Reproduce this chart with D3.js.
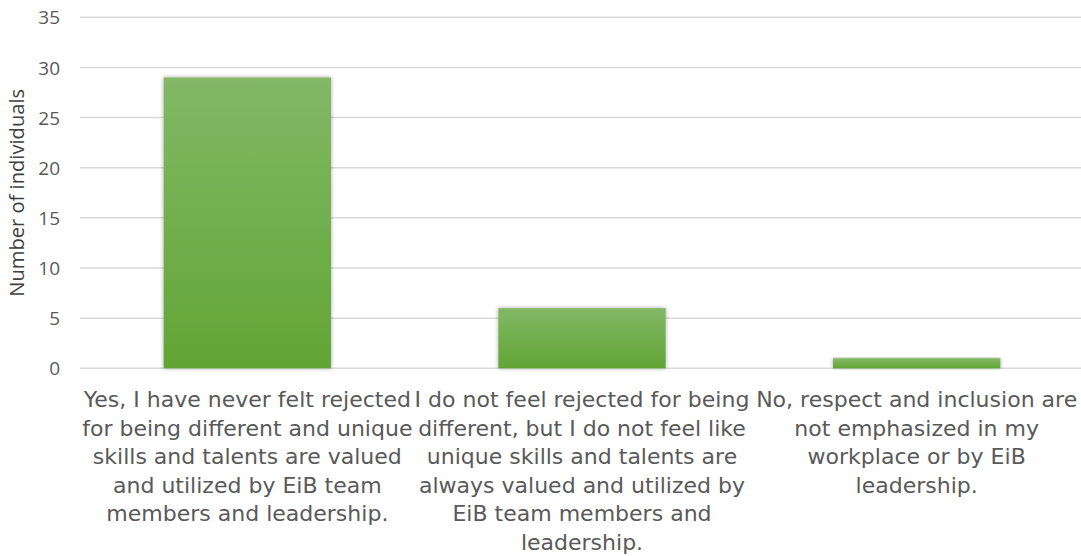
<!DOCTYPE html>
<html>
<head>
<meta charset="utf-8">
<script src="https://cdn.jsdelivr.net/npm/d3@7"></script>
<style>
  html, body { margin: 0; padding: 0; background: #fff; }
  svg { display: block; }
</style>
</head>
<body>
<svg id="chart" width="1081" height="556"></svg>
<script>
const categories = [
  ["Yes, I have never felt rejected", "for being different and unique", "skills and talents are valued", "and utilized by EiB team", "members and leadership."],
  ["I do not feel rejected for being", "different, but I do not feel like", "unique skills and talents are", "always valued and utilized by", "EiB team members and", "leadership."],
  ["No, respect and inclusion are", "not emphasized in my", "workplace or by EiB", "leadership."]
];
const values = [29, 6, 1];
const yTicks = [0, 5, 10, 15, 20, 25, 30, 35];
const yTitle = "Number of individuals";

const svg = d3.select("#chart");
const W = 1081, H = 556;
const margin = { left: 80, right: -3, top: 17.3, bottom: 556 - 368.3 };

const x = d3.scaleBand()
  .domain(d3.range(values.length))
  .range([margin.left, W - margin.right])
  .paddingInner(0.5)
  .paddingOuter(0.25);

const y = d3.scaleLinear()
  .domain([0, 35])
  .range([H - margin.bottom, margin.top]);

const defs = svg.append("defs");
const grad = defs.append("linearGradient").attr("id", "barGrad")
  .attr("x1", 0).attr("y1", 0).attr("x2", 0).attr("y2", 1);
grad.append("stop").attr("offset", "0%").attr("stop-color", "#82b866");
grad.append("stop").attr("offset", "100%").attr("stop-color", "#62a535");

const filt = defs.append("filter").attr("id", "shadow")
  .attr("x", "-10%").attr("y", "-10%").attr("width", "120%").attr("height", "120%");
filt.append("feDropShadow").attr("dx", 0).attr("dy", 0).attr("stdDeviation", 2)
  .attr("flood-color", "#000").attr("flood-opacity", 0.35);

// gridlines
svg.append("g").selectAll("line").data(yTicks).join("line")
  .attr("x1", margin.left).attr("x2", W)
  .attr("y1", d => y(d)).attr("y2", d => y(d))
  .attr("stroke", "#d9d9d9").attr("stroke-width", 1.5);

// y axis labels
const yAxis = d3.axisLeft(y).tickValues(yTicks).tickSize(0).tickPadding(0);
const gy = svg.append("g").attr("transform", `translate(${margin.left - 20},0)`).call(yAxis);
gy.select(".domain").remove();
gy.selectAll("text")
  .attr("font-family", "'Open Sans', 'Liberation Sans', sans-serif")
  .attr("font-size", 19)
  .attr("fill", "#595959")
  .attr("dy", "0.35em");

// bars
svg.append("g").selectAll("rect").data(values).join("rect")
  .attr("x", (d, i) => x(i))
  .attr("width", x.bandwidth())
  .attr("y", d => y(d))
  .attr("height", d => y(0) - y(d))
  .attr("fill", "url(#barGrad)")
  .attr("filter", "url(#shadow)");

// category labels
const catFont = "'DejaVu Sans', Verdana, sans-serif";
// size the font so the widest line matches the reference width
const probe = svg.append("text").attr("font-family", catFont).attr("font-size", 20)
  .text(categories[1][0]);
const probeW = probe.node().getComputedTextLength();
probe.remove();
const catSize = 20 * 335 / probeW;

const lineH = 28.5;
const catG = svg.append("g");
categories.forEach((lines, i) => {
  const t = catG.append("text")
    .attr("x", x(i) + x.bandwidth() / 2)
    .attr("y", 407)
    .attr("text-anchor", "middle")
    .attr("font-family", catFont)
    .attr("font-size", catSize)
    .attr("fill", "#595959");
  lines.forEach((ln, j) => {
    t.append("tspan").attr("x", x(i) + x.bandwidth() / 2).attr("y", 407 + j * lineH).text(ln);
  });
});

// y title
const yt = svg.append("text")
  .attr("transform", `translate(24,${(y(0) + y(35)) / 2}) rotate(-90)`)
  .attr("text-anchor", "middle")
  .attr("font-family", "'Open Sans', 'Liberation Sans', sans-serif")
  .attr("font-size", 16)
  .attr("fill", "#404040")
  .text(yTitle);
const ytW = yt.node().getComputedTextLength();
yt.attr("font-size", 16 * 208 / ytW);
</script>
</body>
</html>
